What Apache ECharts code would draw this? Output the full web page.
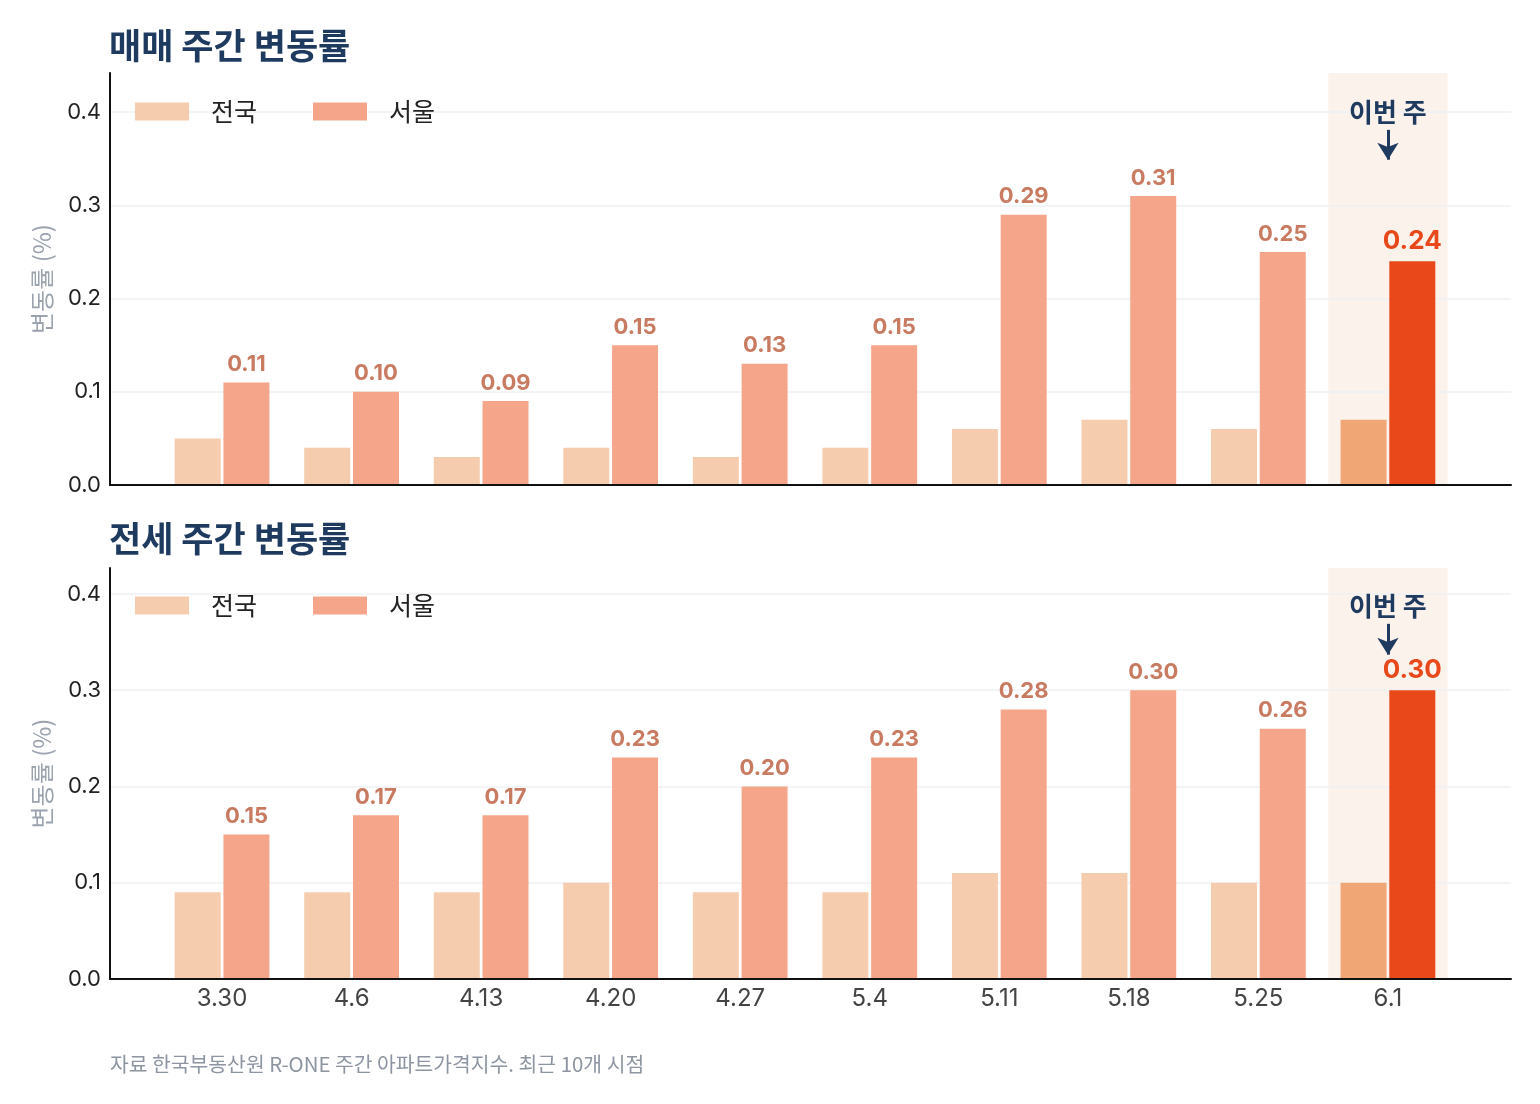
<!DOCTYPE html>
<html>
<head>
<meta charset="utf-8">
<script src="https://cdn.jsdelivr.net/npm/echarts@6/dist/echarts.min.js"></script>
<style>
  html, body { margin: 0; padding: 0; background: #fff; }
  #chart { width: 1540px; height: 1104px; }
</style>
</head>
<body>
<div id="chart"></div>
<script>
const weeks = ["3.30", "4.6", "4.13", "4.20", "4.27", "5.4", "5.11", "5.18", "5.25", "6.1"];
const saleNation = [0.05, 0.04, 0.03, 0.04, 0.03, 0.04, 0.06, 0.07, 0.06, 0.07];
const saleSeoul = [0.11, 0.10, 0.09, 0.15, 0.13, 0.15, 0.29, 0.31, 0.25, 0.24];
const rentNation = [0.09, 0.09, 0.09, 0.10, 0.09, 0.09, 0.11, 0.11, 0.10, 0.10];
const rentSeoul = [0.15, 0.17, 0.17, 0.23, 0.20, 0.23, 0.28, 0.30, 0.26, 0.30];
const yTicks = [0, 0.1, 0.2, 0.3, 0.4];

const FONT = 'Inter, "Noto Sans CJK KR", sans-serif';
const KFONT = '"Noto Sans CJK KR", sans-serif';
const NAVY = "#1F3A5F";
const C_NATION = "#F6CCAE";
const C_SEOUL = "#F4A58A";
const C_NATION_HI = "#F0A675";
const C_SEOUL_HI = "#E8481A";
const C_LABEL = "#C97B62";
const last = weeks.length - 1;

const chart = echarts.init(document.getElementById("chart"));

function nationData(vals) {
  return vals.map((v, i) =>
    i === last ? { value: [i, v], itemStyle: { color: C_NATION_HI } } : [i, v]
  );
}
function seoulData(vals) {
  return vals.map((v, i) =>
    i === last
      ? {
          value: [i, v],
          itemStyle: { color: C_SEOUL_HI },
          label: { color: C_SEOUL_HI, fontSize: 26, distance: 7 }
        }
      : [i, v]
  );
}

function xAxis(grid, showLabels) {
  return {
    type: "value",
    gridIndex: grid,
    min: -0.865,
    max: 9.95,
    z: 3,
    splitLine: { show: false },
    axisTick: { show: false },
    axisLine: { show: true, onZero: false, lineStyle: { color: "#111", width: 2 } },
    axisLabel: {
      show: showLabels,
      customValues: weeks.map((w, i) => i),
      formatter: v => weeks[Math.round(v)],
      color: "#444",
      fontSize: 24,
      fontFamily: FONT,
      margin: 8
    }
  };
}
function yAxis(grid, max) {
  return {
    type: "value",
    gridIndex: grid,
    min: 0,
    max: max,
    z: 1.5,
    axisLabel: {
      customValues: yTicks,
      formatter: v => v.toFixed(1),
      color: "#222",
      fontSize: 22,
      fontFamily: FONT,
      margin: 9
    },
    axisTick: { show: false, customValues: yTicks },
    splitLine: { show: true, lineStyle: { color: "#EEF0F3", width: 1.5 } },
    axisLine: { show: true, onZero: false, lineStyle: { color: "#111", width: 2 } },
    name: "변동률 (%)",
    nameLocation: "middle",
    nameRotate: 90,
    nameGap: 56,
    nameTextStyle: { color: "#9AA3AE", fontSize: 24, fontFamily: KFONT }
  };
}
function legend(top) {
  return {
    left: 130,
    top: top,
    itemWidth: 54,
    itemHeight: 18,
    itemGap: 56,
    icon: "rect",
    data: ["전국", "서울"],
    textStyle: { fontSize: 25, color: "#222", fontFamily: KFONT, padding: [0, 0, 0, 17] }
  };
}
function barSeries(name, grid, data, color, extra) {
  return Object.assign({
    name: name,
    type: "bar",
    xAxisIndex: grid,
    yAxisIndex: grid,
    barWidth: 46,
    barGap: "6%",
    itemStyle: { color: color },
    data: data
  }, extra);
}
const seoulLabel = {
  label: {
    show: true,
    position: "top",
    distance: 7,
    formatter: p => p.value[1].toFixed(2),
    color: C_LABEL,
    fontSize: 22,
    fontWeight: "bold",
    fontFamily: FONT
  }
};
const highlight = {
  markArea: {
    silent: true,
    itemStyle: { color: "#FBF2EC" },
    data: [[{ xAxis: last - 0.46 }, { xAxis: last + 0.46 }]]
  }
};
// "이번 주" note with arrow, on a markers-only series so it sits on the category centre
function thisWeek(grid, textY, arrowFrom, arrowTo) {
  return {
    type: "line",
    xAxisIndex: grid,
    yAxisIndex: grid,
    data: [],
    silent: true,
    markLine: {
      silent: true,
      symbol: ["none", "arrow"],
      symbolSize: [16, 17],
      label: { show: false },
      lineStyle: { color: NAVY, width: 3, type: "solid" },
      emphasis: { disabled: true },
      data: [[{ coord: [last, arrowFrom] }, { coord: [last, arrowTo] }]]
    },
    markPoint: {
      silent: true,
      symbol: "rect",
      symbolSize: 1,
      itemStyle: { color: "rgba(0,0,0,0)" },
      label: {
        show: true,
        position: "inside",
        formatter: "이번 주",
        color: NAVY,
        fontSize: 26,
        fontWeight: "bold",
        fontFamily: KFONT
      },
      data: [{ coord: [last, textY] }]
    }
  };
}

chart.setOption({
  backgroundColor: "#fff",
  animation: false,
  title: [
    { text: "매매 주간 변동률", left: 104, top: 23,
      textStyle: { color: NAVY, fontSize: 35, fontWeight: "bold", fontFamily: KFONT } },
    { text: "전세 주간 변동률", left: 104, top: 516,
      textStyle: { color: NAVY, fontSize: 35, fontWeight: "bold", fontFamily: KFONT } },
    { text: "자료 한국부동산원 R-ONE 주간 아파트가격지수. 최근 10개 시점", left: 105, top: 1049,
      textStyle: { color: "#8C95A1", fontSize: 20.4, fontWeight: "normal", fontFamily: KFONT } }
  ],
  legend: [legend(94), legend(588)],
  grid: [
    { left: 110, right: 29, top: 73, height: 412 },
    { left: 110, right: 29, top: 568, height: 411 }
  ],
  xAxis: [xAxis(0, false), xAxis(1, true)],
  yAxis: [yAxis(0, 0.442), yAxis(1, 0.427)],
  series: [
    barSeries("전국", 0, nationData(saleNation), C_NATION, highlight),
    barSeries("서울", 0, seoulData(saleSeoul), C_SEOUL, seoulLabel),
    barSeries("전국", 1, nationData(rentNation), C_NATION, highlight),
    barSeries("서울", 1, seoulData(rentSeoul), C_SEOUL, seoulLabel),
    thisWeek(0, 0.400, 0.381, 0.349),
    thisWeek(1, 0.387, 0.369, 0.337)
  ]
});

window.onresize = function () {
  chart.resize();
};
</script>
</body>
</html>
